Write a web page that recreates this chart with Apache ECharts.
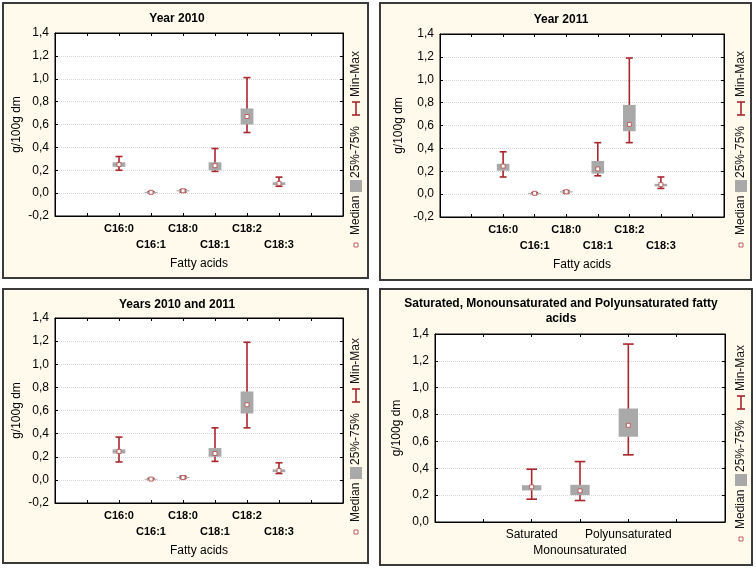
<!DOCTYPE html>
<html>
<head>
<meta charset="utf-8">
<script src="https://cdn.jsdelivr.net/npm/echarts@6/dist/echarts.min.js"></script>
<style>
html,body{margin:0;padding:0;background:#fff;}
#c{width:756px;height:568px;}
</style>
</head>
<body>
<div id="c"></div>
<script>
// ---- data ----
const fattyAcids = ['C16:0','C16:1','C18:0','C18:1','C18:2','C18:3'];
const groups = ['Saturated','Monounsaturated','Polyunsaturated'];
const yTicks = [-0.2,0,0.2,0.4,0.6,0.8,1.0,1.2,1.4];

const y2010Min    = [0.20, 0.003, 0.010, 0.19, 0.53, 0.06];
const y2010Q1     = [0.23, 0.005, 0.015, 0.20, 0.60, 0.07];
const y2010Median = [0.25, 0.007, 0.020, 0.24, 0.67, 0.085];
const y2010Q3     = [0.27, 0.010, 0.025, 0.27, 0.74, 0.095];
const y2010Max    = [0.32, 0.012, 0.030, 0.39, 1.01, 0.14];

const y2011Min    = [0.15, 0.003, 0.010, 0.16, 0.45, 0.05];
const y2011Q1     = [0.205, 0.005, 0.015, 0.18, 0.55, 0.068];
const y2011Median = [0.245, 0.007, 0.020, 0.22, 0.61, 0.083];
const y2011Q3     = [0.265, 0.010, 0.025, 0.29, 0.78, 0.09];
const y2011Max    = [0.37, 0.012, 0.030, 0.45, 1.19, 0.15];

const bothMin    = [0.155, 0.003, 0.012, 0.16, 0.45, 0.055];
const bothQ1     = [0.228, 0.005, 0.016, 0.20, 0.574, 0.067];
const bothMedian = [0.246, 0.007, 0.020, 0.228, 0.65, 0.081];
const bothQ3     = [0.264, 0.010, 0.025, 0.275, 0.765, 0.09];
const bothMax    = [0.37, 0.012, 0.032, 0.45, 1.19, 0.148];

const grpMin    = [0.17, 0.16, 0.50];
const grpQ1     = [0.235, 0.20, 0.635];
const grpMedian = [0.262, 0.232, 0.72];
const grpQ3     = [0.274, 0.277, 0.845];
const grpMax    = [0.393, 0.45, 1.325];

// ---- styling ----
const FONT = 'Arial, "Liberation Sans", sans-serif';
const RED = '#A8262C';
const BOX = '#A9A9A9';
const BG = '#FFFAEC';
const OFFSET = 2; // first category sits two slots from the left edge

function build(mins, q1s, meds, q3s, maxs) {
  return mins.map((m, i) => [i + OFFSET, m, q1s[i], meds[i], q3s[i], maxs[i]]);
}

function renderItem(params, api) {
  const x = api.value(0);
  const pMin = api.coord([x, api.value(1)]);
  const pQ1 = api.coord([x, api.value(2)]);
  const pMed = api.coord([x, api.value(3)]);
  const pQ3 = api.coord([x, api.value(4)]);
  const pMax = api.coord([x, api.value(5)]);
  const unit = api.size([1, 0])[0];
  const bw = unit * 0.4, cw = unit * 0.22;
  const cx = pMin[0];
  const ls = {stroke: RED, lineWidth: 1.6};
  return {
    type: 'group',
    children: [
      {type: 'line', shape: {x1: cx, y1: pMin[1], x2: cx, y2: pMax[1]}, style: ls},
      {type: 'line', shape: {x1: cx - cw/2, y1: pMin[1], x2: cx + cw/2, y2: pMin[1]}, style: ls},
      {type: 'line', shape: {x1: cx - cw/2, y1: pMax[1], x2: cx + cw/2, y2: pMax[1]}, style: ls},
      {type: 'rect', shape: {x: cx - bw/2, y: pQ3[1], width: bw, height: Math.max(1, pQ1[1] - pQ3[1])}, style: {fill: BOX}},
      {type: 'rect', shape: {x: cx - 2, y: pMed[1] - 2, width: 4, height: 4}, style: {fill: '#fff', stroke: '#B86060', lineWidth: 1}}
    ]
  };
}

function xLabel(names) {
  return function (v) {
    const i = Math.round(v) - OFFSET;
    if (i < 0 || i >= names.length) return '';
    return (i % 2 ? '\n' : '') + names[i];
  };
}
function yLabel(v) { return (Math.round(v * 10) / 10).toFixed(1).replace('.', ','); }

const grids = [
  {left: 55, top: 33, width: 288, height: 183},
  {left: 440, top: 34, width: 284, height: 183},
  {left: 55, top: 318, width: 288, height: 185},
  {left: 435, top: 334, width: 290, height: 188}
];

const panels = [
  {names: fattyAcids, data: build(y2010Min, y2010Q1, y2010Median, y2010Q3, y2010Max), xmax: 9, ymin: -0.2, bold: true, xname: 'Fatty acids', ygap: 24},
  {names: fattyAcids, data: build(y2011Min, y2011Q1, y2011Median, y2011Q3, y2011Max), xmax: 9, ymin: -0.2, bold: true, xname: 'Fatty acids', ygap: 27},
  {names: fattyAcids, data: build(bothMin, bothQ1, bothMedian, bothQ3, bothMax), xmax: 9, ymin: -0.2, bold: true, xname: 'Fatty acids', ygap: 24},
  {names: groups, data: build(grpMin, grpQ1, grpMedian, grpQ3, grpMax), xmax: 6, ymin: 0, bold: false, xname: '', ygap: 24}
];

const axLine = {show: true, onZero: false, lineStyle: {color: '#000', width: 1}};
const axTick = {show: true, inside: true, length: 3, lineStyle: {color: '#000'}};

const xAxis = [], yAxis = [], series = [];
panels.forEach((p, k) => {
  xAxis.push({
    type: 'value', gridIndex: k, min: 0, max: p.xmax, interval: 1, position: 'bottom',
    axisLine: axLine, axisTick: axTick, splitLine: {show: false},
    axisLabel: {formatter: xLabel(p.names), color: '#000', fontFamily: FONT, fontSize: p.bold ? 11 : 12,
      fontWeight: p.bold ? 'bold' : 'normal', lineHeight: 16, margin: 5, showMinLabel: true, showMaxLabel: true},
    name: p.xname, nameLocation: 'middle', nameGap: 42,
    nameTextStyle: {color: '#000', fontFamily: FONT, fontSize: 12}
  });
  xAxis.push({
    type: 'value', gridIndex: k, min: 0, max: p.xmax, interval: 1, position: 'top',
    axisLine: axLine, axisTick: axTick, axisLabel: {show: false}, splitLine: {show: false}
  });
  yAxis.push({
    type: 'value', gridIndex: k, min: p.ymin, max: 1.4, interval: 0.2, position: 'left',
    axisLine: axLine, axisTick: axTick,
    splitLine: {show: true, lineStyle: {color: '#D8D8D8', type: 'dotted', width: 1}},
    axisLabel: {formatter: yLabel, color: '#000', fontFamily: FONT, fontSize: 12, margin: 6},
    name: 'g/100g dm', nameLocation: 'middle', nameGap: p.ygap + 8, nameRotate: 90,
    nameTextStyle: {color: '#000', fontFamily: FONT, fontSize: 12}
  });
  yAxis.push({
    type: 'value', gridIndex: k, min: p.ymin, max: 1.4, interval: 0.2, position: 'right',
    axisLine: axLine, axisTick: axTick, axisLabel: {show: false}, splitLine: {show: false}
  });
  series.push({
    type: 'custom', xAxisIndex: 2 * k, yAxisIndex: 2 * k, renderItem: renderItem,
    encode: {x: 0, y: [1, 2, 3, 4, 5]}, data: p.data, clip: false, silent: true
  });
});

function frame(x, y, w, h) {
  return {type: 'rect', z: -10, shape: {x: x, y: y, width: w, height: h},
    style: {fill: BG, stroke: '#3A3A3A', lineWidth: 2}};
}
function rtext(x, y, s) {
  return {type: 'text', x: x, y: y, rotation: Math.PI / 2, z: 10,
    style: {text: s, x: 0, y: 0, align: 'left', verticalAlign: 'middle', fill: '#111', font: '12px ' + FONT}};
}
function legend(x, y) {
  return [
    {type: 'rect', z: 10, shape: {x: x - 2, y: y - 2, width: 4, height: 4}, style: {fill: '#fff', stroke: '#B86060', lineWidth: 1}},
    rtext(x, y - 10, 'Median'),
    {type: 'rect', z: 10, shape: {x: x - 6, y: y - 65, width: 12, height: 12}, style: {fill: BOX}},
    rtext(x, y - 67, '25%-75%'),
    {type: 'line', z: 10, shape: {x1: x, y1: y - 143, x2: x, y2: y - 130}, style: {stroke: RED, lineWidth: 1.6}},
    {type: 'line', z: 10, shape: {x1: x - 4, y1: y - 143, x2: x + 4, y2: y - 143}, style: {stroke: RED, lineWidth: 1.6}},
    {type: 'line', z: 10, shape: {x1: x - 4, y1: y - 130, x2: x + 4, y2: y - 130}, style: {stroke: RED, lineWidth: 1.6}},
    rtext(x, y - 148, 'Min-Max')
  ];
}

const titleStyle = {color: '#000', fontFamily: FONT, fontSize: 12, fontWeight: 'bold', lineHeight: 15};
const option = {
  backgroundColor: '#fff',
  animation: false,
  title: [
    {text: 'Year 2010', left: 177, top: 11, textAlign: 'center', textStyle: titleStyle, padding: 0},
    {text: 'Year 2011', left: 561, top: 12, textAlign: 'center', textStyle: titleStyle, padding: 0},
    {text: 'Years 2010 and 2011', left: 177, top: 297, textAlign: 'center', textStyle: titleStyle, padding: 0},
    {text: 'Saturated, Monounsaturated and Polyunsaturated fatty\nacids', left: 561, top: 296, textAlign: 'center', textStyle: titleStyle, padding: 0}
  ],
  grid: grids.map(g => Object.assign({show: true, backgroundColor: '#fff', borderColor: '#000', borderWidth: 1, containLabel: false}, g)),
  xAxis: xAxis,
  yAxis: yAxis,
  series: series,
  graphic: [
    frame(3, 3, 365, 275),
    frame(380, 3, 371, 277),
    frame(3, 289, 365, 274),
    frame(380, 289, 372, 276)
  ].concat(legend(356, 245), legend(741, 245), legend(356, 532), legend(741, 539))
};

const chart = echarts.init(document.getElementById('c'), null, {renderer: 'canvas'});
chart.setOption(option);
</script>
</body>
</html>
